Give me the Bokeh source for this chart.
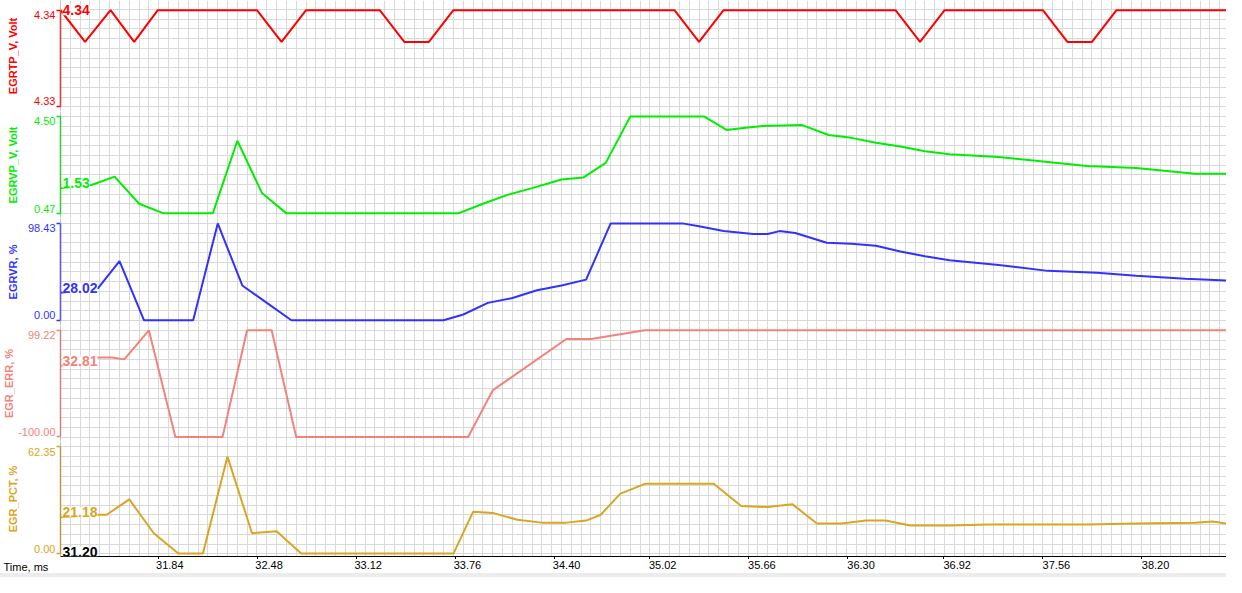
from bokeh.plotting import figure
from bokeh.layouts import column
from bokeh.models import (Range1d, FixedTicker, CustomJSTickFormatter,
                          Label, Span, Div)
from bokeh.core.properties import value
from bokeh.embed import file_html
from bokeh.resources import INLINE

# ---------------- data ----------------
time_tick_labels = ["31.84", "32.48", "33.12", "33.76", "34.40", "35.02",
                    "35.66", "36.30", "36.92", "37.56", "38.20"]
time_start = 31.204
time_end = 38.753
cursor_time = "31.20"
time_label = "Time, ms"

names = ["EGRTP_V, Volt", "EGRVP_V, Volt", "EGRVR, %", "EGR_ERR, %", "EGR_PCT, %"]
colors = ["#ff0000", "#00ee00", "#3232ff", "#f2837b", "#daa520"]
lo_labels = ["4.33", "0.47", "0.00", "-100.00", "0.00"]
hi_labels = ["4.34", "4.50", "98.43", "99.22", "62.35"]
cursor_labels = ["4.34", "1.53", "28.02", "32.81", "21.18"]

egrtp_t = [31.204, 31.363, 31.528, 31.681, 31.834, 32.476, 32.635, 32.794, 33.271, 33.430,
           33.589, 33.748, 35.179, 35.338, 35.497, 36.610, 36.769, 36.928, 37.564, 37.723,
           37.882, 38.041, 38.753]
egrtp_v = [4.34, 4.3367, 4.34, 4.3367, 4.34, 4.34, 4.3367, 4.34, 4.34, 4.3367,
           4.3367, 4.34, 4.34, 4.3367, 4.34, 4.34, 4.3367, 4.34, 4.34, 4.3367,
           4.3367, 4.34, 4.34]

egrvp_t = [31.204, 31.401, 31.554, 31.713, 31.872, 32.190, 32.349, 32.508, 32.667, 33.780,
           33.939, 34.098, 34.257, 34.448, 34.588, 34.734, 34.893, 35.370, 35.516, 35.624,
           35.751, 36.006, 36.177, 36.324, 36.483, 36.642, 36.801, 36.960, 37.278, 37.596,
           37.850, 38.168, 38.550, 38.753]
egrvp_v = [1.53, 1.64, 2.00, 0.87, 0.47, 0.47, 3.49, 1.32, 0.47, 0.47,
           0.87, 1.24, 1.52, 1.88, 1.96, 2.57, 4.50, 4.50, 3.94, 4.02,
           4.10, 4.14, 3.73, 3.61, 3.41, 3.25, 3.05, 2.93, 2.81, 2.61,
           2.44, 2.36, 2.12, 2.12]

egrvr_t = [31.204, 31.446, 31.586, 31.745, 32.063, 32.222, 32.381, 32.540, 32.699, 33.684,
           33.812, 33.971, 34.130, 34.289, 34.448, 34.607, 34.766, 35.230, 35.338, 35.497,
           35.688, 35.783, 35.859, 35.961, 36.165, 36.324, 36.483, 36.642, 36.801, 36.960,
           37.278, 37.596, 37.914, 38.168, 38.486, 38.753]
egrvr_v = [28.02, 32.5, 60.0, 0.0, 0.0, 98.43, 35.4, 17.7, 0.0, 0.0,
           5.9, 17.7, 22.6, 30.5, 35.4, 41.3, 98.43, 98.43, 95.5, 90.6,
           87.6, 87.6, 90.6, 88.6, 78.7, 77.8, 75.8, 69.9, 65.0, 61.0,
           56.1, 50.2, 48.2, 45.3, 42.3, 40.4]

egrerr_t = [31.204, 31.446, 31.535, 31.617, 31.776, 31.948, 32.253, 32.412, 32.571, 32.730,
            33.843, 34.002, 34.479, 34.638, 34.988, 38.753]
egrerr_v = [32.81, 48.5, 48.5, 44.9, 99.22, -100.0, -100.0, 99.22, 99.22, -100.0,
            -100.0, -13.1, 82.9, 82.9, 99.22, 99.22]

egrpct_t = [31.204, 31.458, 31.503, 31.649, 31.808, 31.967, 32.126, 32.285, 32.444, 32.603,
            32.762, 33.748, 33.875, 34.002, 34.161, 34.320, 34.479, 34.607, 34.702, 34.829,
            34.988, 35.433, 35.611, 35.783, 35.942, 36.101, 36.260, 36.419, 36.546, 36.705,
            36.960, 37.214, 37.850, 38.168, 38.550, 38.664, 38.753]
egrpct_v = [21.18, 22.7, 22.7, 31.7, 11.9, 0.0, 0.0, 56.7, 11.9, 13.0,
            0.0, 0.0, 24.4, 23.8, 19.8, 18.1, 18.1, 19.3, 22.7, 35.1,
            40.8, 40.8, 27.8, 27.2, 28.9, 17.6, 17.6, 19.3, 19.3, 16.4,
            16.4, 17.0, 17.0, 17.6, 18.1, 18.7, 17.6]

series_t = [egrtp_t, egrvp_t, egrvr_t, egrerr_t, egrpct_t]
series_v = [egrtp_v, egrvp_v, egrvr_v, egrerr_v, egrpct_v]

# ---------------- layout ----------------
W = 1226
LEFT = 56
SY = 556 / 572
frame_edges_ref = [0, 114, 224, 334, 454, 572]
band_top_ref = [10, 119.3, 229.3, 339.3, 459.3]
band_bot_ref = [108.7, 219, 329, 449, 569]
label_standoff = [12, 12, 6, 0, 6]
line_widths = [2, 2, 2, 2, 2]
TICK_H = 3
STRIP_H = 14
GRAY_H = 4
GRID = "#d9d9d9"
FONT = "Liberation Sans"

time_ticks = [float(s) for s in time_tick_labels]
xr = Range1d(time_start, time_end)
xgrid_ticks = []
k = 0
while time_start + 0.0636 * k <= time_end + 1e-9:
    xgrid_ticks.append(time_start + 0.0636 * k)
    k += 1

figs = []
for i in range(5):
    ftop = round(frame_edges_ref[i] * SY)
    fbot = round(frame_edges_ref[i + 1] * SY)
    H = fbot - ftop
    btop = band_top_ref[i] * SY - ftop
    bbot = band_bot_ref[i] * SY - ftop
    vmin = float(lo_labels[i])
    vmax = float(hi_labels[i])
    u = (vmax - vmin) / (bbot - btop)
    y0 = vmin - (H - bbot) * u
    y1 = vmax + btop * u
    last = (i == 4)

    p = figure(width=W, height=H + (TICK_H if last else 0),
               x_range=xr, y_range=Range1d(y0, y1),
               output_backend="svg", toolbar_location=None, tools="",
               x_axis_location="below" if last else None,
               min_border_left=LEFT, min_border_right=0, min_border_top=0,
               min_border_bottom=TICK_H if last else 0,
               background_fill_color="white", border_fill_color="white",
               outline_line_color=None)

    # grid (10 px cells, continuous across panels)
    ygrid_ticks = []
    for kk in range(-2, 70):
        gy = 9.3 * SY + 10 * SY * kk
        if ftop - 0.5 <= gy <= fbot + 0.5:
            ygrid_ticks.append(y1 - (gy - ftop) * u)
    p.xgrid.ticker = FixedTicker(ticks=xgrid_ticks)
    p.ygrid.ticker = FixedTicker(ticks=ygrid_ticks)
    p.xgrid.grid_line_color = GRID
    p.ygrid.grid_line_color = GRID
    p.xgrid.grid_line_width = 1
    p.ygrid.grid_line_width = 1

    # left bracket axis
    ax = p.yaxis[0]
    inner = [vmin + 5 * SY * u, vmax - 5 * SY * u]
    ax.ticker = FixedTicker(ticks=inner, minor_ticks=[vmin, vmax])
    ax.bounds = (vmin, vmax)
    ax.formatter = CustomJSTickFormatter(args=dict(labels=[lo_labels[i], hi_labels[i]]),
                                         code="return labels[index];")
    ax.axis_line_color = colors[i]
    ax.axis_line_width = 1.5
    ax.major_tick_line_color = None
    ax.major_tick_out = 3
    ax.major_tick_in = 0
    ax.minor_tick_line_color = colors[i]
    ax.minor_tick_line_width = 1.5
    ax.minor_tick_out = 4
    ax.minor_tick_in = 0
    ax.major_label_standoff = 1
    ax.major_label_text_font = FONT
    ax.major_label_text_font_size = "11px"
    ax.major_label_text_color = colors[i]
    ax.axis_label = names[i]
    ax.axis_label_text_font = FONT
    ax.axis_label_text_font_style = "bold"
    ax.axis_label_text_font_size = "11px"
    ax.axis_label_text_color = colors[i]
    ax.axis_label_standoff = label_standoff[i]

    # frame left edge
    p.add_layout(Span(location=time_start, dimension="height",
                      line_color="#8a8a8a", line_width=1))

    p.line(series_t[i], series_v[i], line_color=colors[i], line_width=line_widths[i])

    p.add_layout(Label(x=time_start, y=float(cursor_labels[i]), x_offset=2,
                       text=cursor_labels[i], text_font=FONT, text_font_style="bold",
                       text_font_size="14px", text_color=colors[i],
                       text_baseline="middle" if i == 0 else "bottom",
                       background_fill_color="white"))

    if last:
        xa = p.xaxis[0]
        xa.ticker = FixedTicker(ticks=time_ticks)
        xa.axis_line_color = "black"
        xa.axis_line_width = 1
        xa.major_tick_line_color = "black"
        xa.major_tick_out = 3
        xa.major_tick_in = 0
        xa.minor_tick_line_color = None
        xa.major_label_standoff = 0
        xa.major_label_text_font_size = "0px"
        xa.major_label_text_alpha = 0
        p.add_layout(Label(x=time_start, y=5, y_units="screen", x_offset=2,
                           text=cursor_time, text_font=FONT, text_font_style="bold",
                           text_font_size="14px", text_color="black",
                           text_baseline="middle", background_fill_color="white"))
    figs.append(p)

# tick-label strip under the time axis (same time scale, extended over the left border)
ms_per_px = (time_end - time_start) / (W - LEFT)
strip = figure(width=W, height=STRIP_H,
               x_range=Range1d(time_start - LEFT * ms_per_px, time_end),
               y_range=Range1d(0, 1),
               output_backend="svg", toolbar_location=None, tools="",
               x_axis_location=None, y_axis_location=None,
               min_border_left=0, min_border_right=0, min_border_top=0, min_border_bottom=0,
               background_fill_color="white", border_fill_color="white",
               outline_line_color=None, frame_align=False)
strip.xgrid.visible = False
strip.ygrid.visible = False
strip.text(x=time_ticks, y=[1.0] * len(time_ticks), text=time_tick_labels,
           x_offset=1, y_offset=1, text_align="left", text_baseline="top",
           text_font=value(FONT), text_font_size=value("11px"), text_color="black")
strip.text(x=[time_start - LEFT * ms_per_px], y=[1.0], text=[time_label],
           x_offset=3, y_offset=1, text_align="left", text_baseline="top",
           text_font=value(FONT), text_font_size=value("11px"), text_color="black")

gray = Div(text="", width=W, height=GRAY_H, margin=(0, 0, 0, 0),
           styles={"background-color": "#ececec"})

layout = column(*figs, strip, gray, spacing=0)
open("out.html", "w").write(file_html(layout, INLINE))
